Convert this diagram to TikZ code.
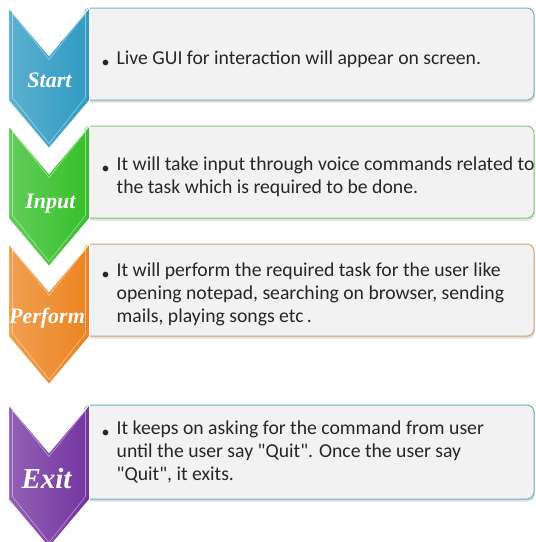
\documentclass[tikz,border=0pt]{standalone}
\usepackage{fontspec}
\setmainfont{Carlito}
\newfontfamily\labelfont{Liberation Serif}
\usetikzlibrary{positioning,calc,shadows}

\definecolor{startcol}{HTML}{2F9AC2}
\definecolor{inputcol}{HTML}{36BF2A}
\definecolor{performcol}{HTML}{EC8420}
\definecolor{exitcol}{HTML}{7434A0}
\definecolor{startline}{HTML}{79ADBE}
\definecolor{inputline}{HTML}{86C878}
\definecolor{performline}{HTML}{D3A47A}
\definecolor{exitline}{HTML}{6CB0BB}
\definecolor{boxfill}{HTML}{F2F2F2}

% chevron drawn against the left side of a box
\newcommand{\chevron}[2]{%
  \path[left color=#2!78!white, right color=#2, draw=white, line width=1pt]
    ($(#1.north west)+(-75,0)$) -- ($(#1.north west)+(-34.5,48)$)
    -- ($(#1.north west)+(6,0)$) -- ($(#1.south west)+(6,0)$)
    -- ($(#1.south west)+(-34.5,48)$) -- ($(#1.south west)+(-75,0)$) -- cycle;
  \draw[white, opacity=.45, line width=.6pt]
    ($(#1.north west)+(-71,6)$) -- ($(#1.north west)+(-34.5,52)$)
    -- ($(#1.north west)+(2,6)$) -- ($(#1.south west)+(2,-3)$)
    -- ($(#1.south west)+(-34.5,43)$) -- ($(#1.south west)+(-71,-3)$) -- cycle;}
\newcommand{\dotmark}{{\fontsize{16pt}{16pt}\selectfont\raisebox{-2.5pt}{\textbullet}}}
\newcommand{\qt}{\textquotedbl}

\begin{document}
\begin{tikzpicture}[x=1pt,y=-1pt,node distance=25pt,
    infobox/.style={minimum width=450pt, minimum height=92pt, inner sep=0pt,
      rounded corners=7pt, fill=boxfill, line width=1pt,
      drop shadow={opacity=.25, shadow xshift=1pt, shadow yshift=-2.5pt}},
    infotext/.style={anchor=base west, inner sep=0pt, text=black!85,
      font=\fontsize{19.7pt}{23pt}\selectfont},
    chevlabel/.style={anchor=base, inner sep=0pt, text=white,
      font=\labelfont\bfseries\itshape\fontsize{22pt}{22pt}\selectfont}]

  \useasboundingbox (0,0) rectangle (536,542);

  \node[infobox, draw=startline]   (startbox)   at (309,54) {};
  \node[infobox, draw=inputline]   (inputbox)   [below=of startbox] {};
  \node[infobox, draw=performline] (performbox) [below=of inputbox] {};
  \node[infobox, draw=exitline, minimum height=94pt] (exitbox) [below=68pt of performbox] {};

  \chevron{startbox}{startcol}
  \chevron{inputbox}{inputcol}
  \chevron{performbox}{performcol}
  \chevron{exitbox}{exitcol}

  \node[chevlabel] (startlabel)   at ($(startbox.north west)+(-34,80)$)   {Start};
  \node[chevlabel] (inputlabel)   at ($(inputbox.north west)+(-33,83)$)   {Input};
  \node[chevlabel] (performlabel) at ($(performbox.north west)+(-36.5,80)$) {Perform};
  \node[chevlabel, font=\labelfont\bfseries\itshape\fontsize{29pt}{29pt}\selectfont]
    (exitlabel) at ($(exitbox.north west)+(-37,84)$) {Exit};

  \node[infotext] (starttext) at ($(startbox.north west)+(18,57)$)
    {\begin{tabular}[t]{@{}l@{\hspace{7pt}}l@{}}
      \dotmark & Live GUI for interaction will appear on screen.
     \end{tabular}};
  \node[infotext] (inputtext) at ($(inputbox.north west)+(18,45)$)
    {\begin{tabular}[t]{@{}l@{\hspace{7pt}}l@{}}
      \dotmark & It will take input through voice commands related to\\
               & the task which is required to be done.
     \end{tabular}};
  \node[infotext] (performtext) at ($(performbox.north west)+(18,33)$)
    {\begin{tabular}[t]{@{}l@{\hspace{7pt}}l@{}}
      \dotmark & It will perform the required task for the user like\\
               & opening notepad, searching on browser, sending\\
               & mails, playing songs etc\,.
     \end{tabular}};
  \node[infotext] (exittext) at ($(exitbox.north west)+(18,30)$)
    {\begin{tabular}[t]{@{}l@{\hspace{7pt}}l@{}}
      \dotmark & It keeps on asking for the command from user\\
               & until the user say \qt Quit\qt. Once the user say\\
               & \qt Quit\qt, it exits.
     \end{tabular}};
\end{tikzpicture}
\end{document}
